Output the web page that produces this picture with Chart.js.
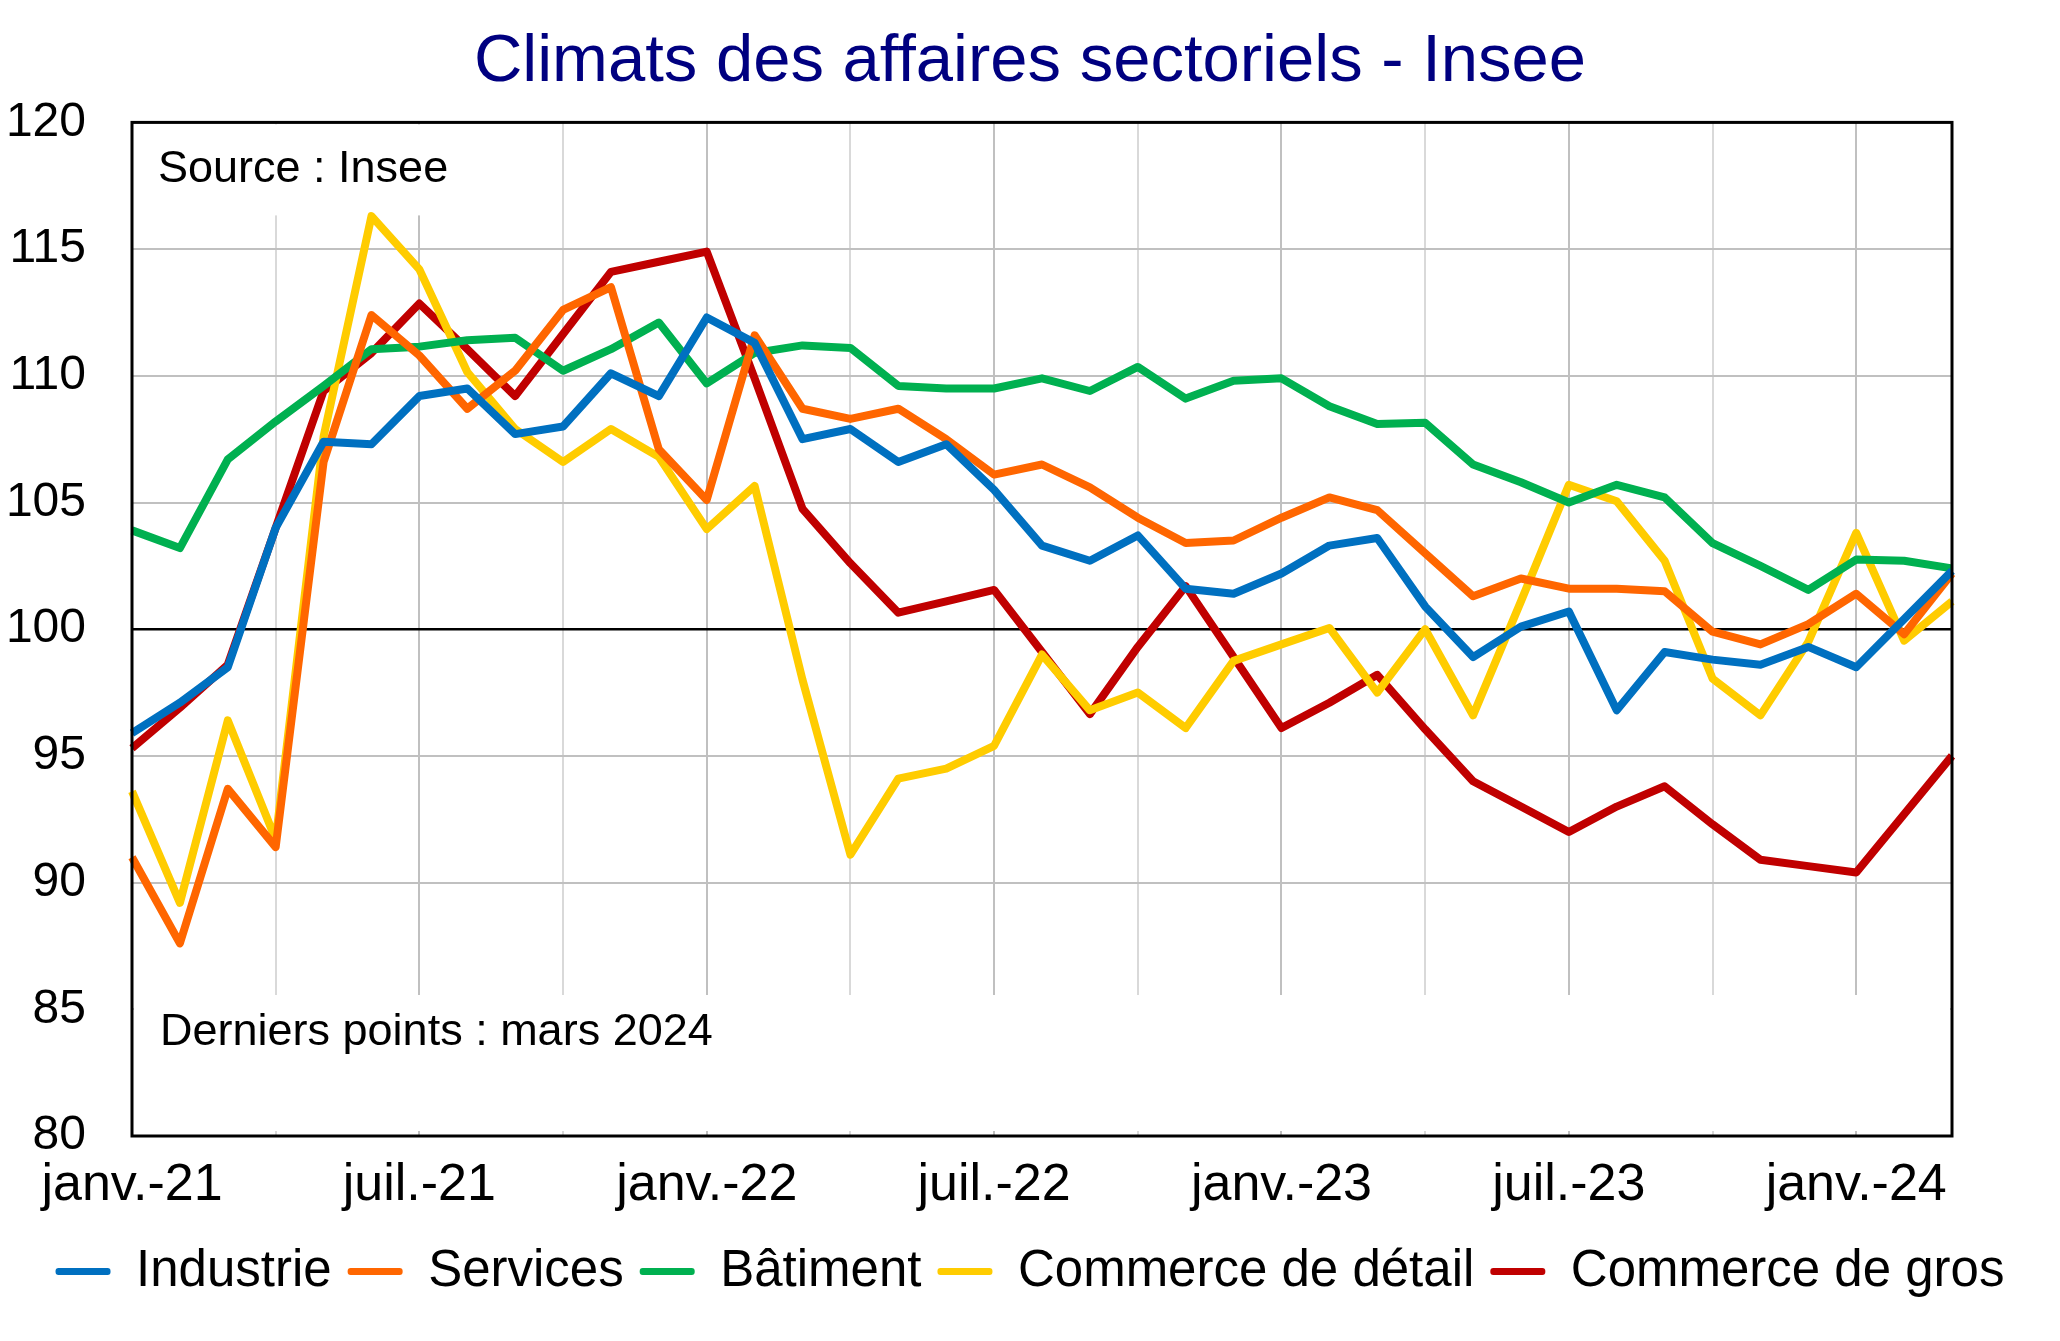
<!DOCTYPE html>
<html>
<head>
<meta charset="utf-8">
<script src="https://cdn.jsdelivr.net/npm/chart.js@4.4.1/dist/chart.umd.min.js"></script>
<style>
  html, body { margin: 0; padding: 0; background: #fff; }
  canvas { display: block; }
</style>
</head>
<body>
<canvas id="climatChart" width="2060" height="1341"></canvas>
<script>
// Climats des affaires sectoriels - Insee (monthly, janv. 2021 -> mars 2024)
const months = [
  'janv.-21', 'févr.-21', 'mars-21', 'avr.-21', 'mai-21', 'juin-21', 'juil.-21', 'août-21', 'sept.-21', 'oct.-21', 'nov.-21', 'déc.-21',
  'janv.-22', 'févr.-22', 'mars-22', 'avr.-22', 'mai-22', 'juin-22', 'juil.-22', 'août-22', 'sept.-22', 'oct.-22', 'nov.-22', 'déc.-22',
  'janv.-23', 'févr.-23', 'mars-23', 'avr.-23', 'mai-23', 'juin-23', 'juil.-23', 'août-23', 'sept.-23', 'oct.-23', 'nov.-23', 'déc.-23',
  'janv.-24', 'févr.-24', 'mars-24'
];

const industrie = [95.9, 97.1, 98.5, 104.0, 107.4, 107.3, 109.2, 109.5, 107.7, 108.0, 110.1, 109.2,
  112.3, 111.3, 107.5, 107.9, 106.6, 107.3, 105.5, 103.3, 102.7, 103.7, 101.6, 101.4,
  102.2, 103.3, 103.6, 100.9, 98.9, 100.1, 100.7, 96.8, 99.1, 98.8, 98.6, 99.3,
  98.5, 100.4, 102.3];

const services = [91.0, 87.6, 93.7, 91.4, 106.6, 112.4, 110.8, 108.7, 110.2, 112.6, 113.5, 107.1,
  105.1, 111.6, 108.7, 108.3, 108.7, 107.5, 106.1, 106.5, 105.6, 104.4, 103.4, 103.5,
  104.4, 105.2, 104.7, 103.0, 101.3, 102.0, 101.6, 101.6, 101.5, 99.9, 99.4, 100.2,
  101.4, 99.8, 102.2];

const batiment = [103.9, 103.2, 106.7, 108.2, 109.6, 111.05, 111.15, 111.4, 111.5, 110.2, 111.05, 112.1,
  109.7, 110.9, 111.2, 111.1, 109.6, 109.5, 109.5, 109.9, 109.4, 110.35, 109.1, 109.8,
  109.9, 108.8, 108.1, 108.15, 106.5, 105.8, 105.0, 105.7, 105.2, 103.4, 102.5, 101.55,
  102.75, 102.7, 102.4];

const commerceDetail = [93.6, 89.2, 96.4, 91.7, 107.6, 116.3, 114.2, 110.15, 107.9, 106.6, 107.9, 106.8,
  103.95, 105.65, 98.0, 91.1, 94.1, 94.5, 95.4, 99.0, 96.8, 97.5, 96.1, 98.75,
  99.4, 100.05, 97.5, 100.0, 96.6, 101.1, 105.7, 105.05, 102.7, 98.05, 96.6, 99.5,
  103.8, 99.55, 101.1];

const commerceGros = [95.3, 96.9, 98.6, 104.0, 109.4, 110.9, 112.85, 111.05, 109.2, 111.65, 114.1, 114.5,
  114.9, 109.9, 104.75, 102.6, 100.65, 101.1, 101.55, 99.1, 96.65, 99.3, 101.7, 98.9,
  96.1, 97.1, 98.2, 96.05, 94.0, 93.0, 92.0, 93.0, 93.8, 92.3, 90.9, 90.65,
  90.4, 92.7, 95.0];

const seriesNames = ['Industrie', 'Services', 'Bâtiment', 'Commerce de détail', 'Commerce de gros'];
const seriesColors = ['#0070C0', '#FF6600', '#00B050', '#FFCC00', '#C00000'];
const seriesValues = [industrie, services, batiment, commerceDetail, commerceGros];

const FONT = "'Liberation Sans', Arial, sans-serif";
Chart.defaults.font.family = FONT;
Chart.defaults.color = '#000';

// White note boxes over the grid ("Source" top-left, "Derniers points" band at the bottom) + black frame
const notesAndFrame = {
  id: 'notesAndFrame',
  beforeDatasetsDraw(chart) {
    const { ctx, chartArea: a } = chart;
    ctx.save();
    ctx.fillStyle = '#fff';
    ctx.fillRect(a.left + 2, a.top + 2, 338, 91);
    ctx.fillRect(a.left + 2, a.bottom - 141, a.width - 4, 136);
    ctx.fillStyle = '#000';
    ctx.font = '45px ' + FONT;
    ctx.textBaseline = 'middle';
    ctx.fillText('Source : Insee', a.left + 26, a.top + 47);
    ctx.fillText('Derniers points : mars 2024', a.left + 28, a.bottom - 103);
    ctx.restore();
  },
  afterDatasetsDraw(chart) {
    const { ctx, chartArea: a } = chart;
    ctx.save();
    ctx.strokeStyle = '#000';
    ctx.lineWidth = 3;
    ctx.strokeRect(a.left, a.top, a.width, a.height);
    ctx.restore();
  }
};

const ctx = document.getElementById('climatChart').getContext('2d');
new Chart(ctx, {
  type: 'line',
  data: {
    labels: months,
    datasets: seriesNames.map((name, i) => ({
      label: name,
      data: seriesValues[i],
      borderColor: seriesColors[i],
      backgroundColor: seriesColors[i],
      borderWidth: 8,
      pointRadius: 0,
      tension: 0,
      borderJoinStyle: 'round'
    }))
  },
  options: {
    responsive: false,
    devicePixelRatio: 1,
    animation: false,
    layout: { padding: { left: 0, right: 0, top: 0, bottom: 34 } },
    scales: {
      x: {
        offset: false,
        border: { display: false },
        grid: {
          drawTicks: false,
          lineWidth: 2,
          color: (c) => (c.index % 6 === 0 ? '#C0C0C0' : (c.index % 3 === 0 ? '#D9D9D9' : 'rgba(0,0,0,0)'))
        },
        ticks: {
          autoSkip: false,
          maxRotation: 0,
          minRotation: 0,
          padding: 18,
          font: { size: 52 },
          callback: function (value, index) { return index % 6 === 0 ? months[index] : ''; }
        },
        afterFit: (scale) => { scale.height = 94; }
      },
      y: {
        min: 80,
        max: 120,
        border: { display: false },
        grid: {
          drawTicks: false,
          lineWidth: (c) => (c.tick && c.tick.value === 100 ? 2.5 : 2),
          color: (c) => (c.tick && c.tick.value === 100 ? '#000' : '#C0C0C0')
        },
        ticks: { stepSize: 5, padding: 46, font: { size: 48 } },
        afterFit: (scale) => { scale.width = 132; }
      },
      // empty right-hand axis, only reserves the margin right of the plot
      yRight: {
        position: 'right',
        min: 80,
        max: 120,
        border: { display: false },
        grid: { display: false, drawTicks: false },
        ticks: { display: false },
        afterFit: (scale) => { scale.width = 108; }
      }
    },
    plugins: {
      title: {
        display: true,
        text: 'Climats des affaires sectoriels - Insee',
        color: '#000080',
        font: { size: 67, weight: 'normal' },
        padding: { top: 22, bottom: 20 }
      },
      legend: {
        position: 'bottom',
        labels: {
          font: { size: 51 },
          boxWidth: 55,
          boxHeight: 7,
          padding: 16,
          useBorderRadius: true,
          borderRadius: 3,
          generateLabels: (chart) => Chart.defaults.plugins.legend.labels.generateLabels(chart)
            .map(item => Object.assign(item, { lineWidth: 0, fillStyle: item.strokeStyle }))
        }
      },
      tooltip: { enabled: false }
    }
  },
  plugins: [notesAndFrame]
});
</script>
</body>
</html>
